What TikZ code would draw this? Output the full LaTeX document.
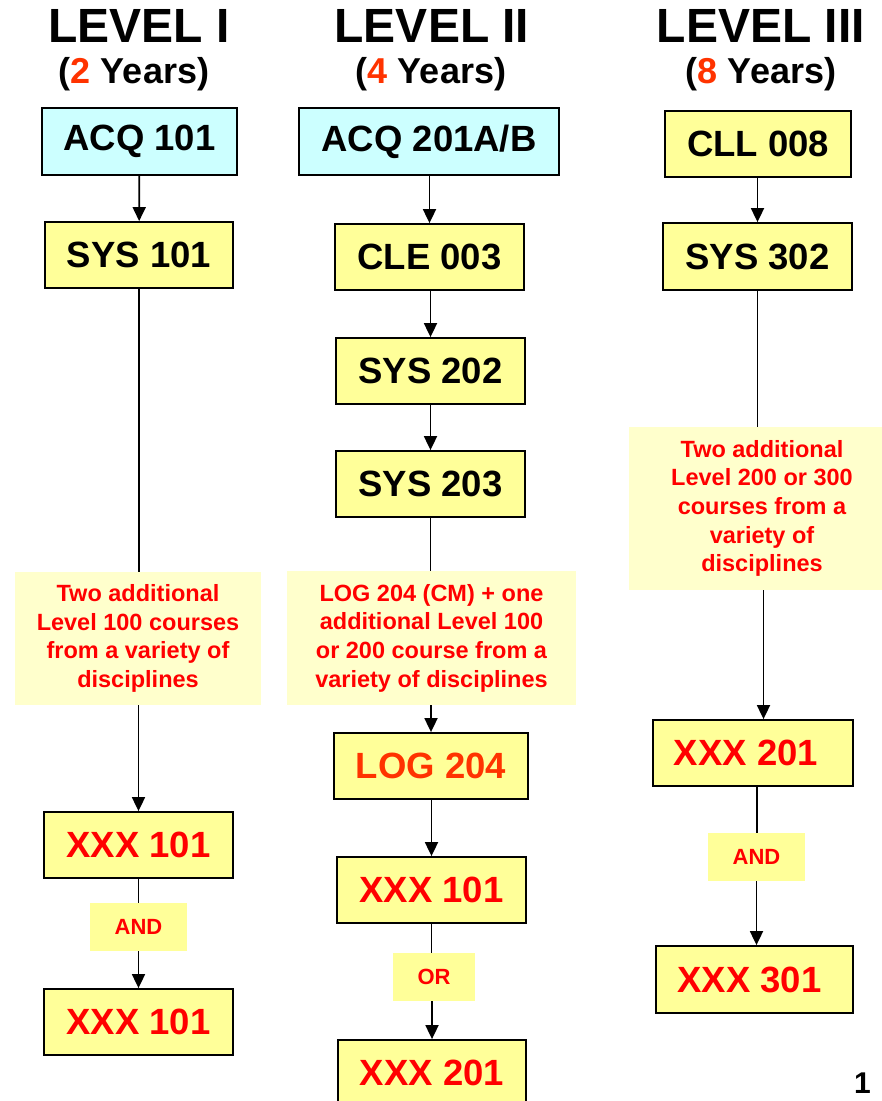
\documentclass[tikz,border=0pt]{standalone}
\usepackage{fontspec}
\setmainfont{Liberation Sans}
\usetikzlibrary{arrows.meta}
\definecolor{crsyellow}{HTML}{FFFF99}
\definecolor{crscyan}{HTML}{CCFFFF}
\definecolor{notefill}{HTML}{FFFFCC}
\definecolor{crsred}{HTML}{FF0000}
\definecolor{logred}{HTML}{FF3300}
\begin{document}
\begin{tikzpicture}[x=1pt,y=-1pt,font=\bfseries,
  crs/.style={draw,line width=1.8pt,fill=crsyellow,minimum width=#1,minimum height=66pt,inner sep=0pt,font=\bfseries\fontsize{36.5}{40}\selectfont},
  crs/.default=189pt,
  note/.style={fill=notefill,text=crsred,align=center,inner sep=0pt,font=\bfseries\fontsize{23.5}{28.7}\selectfont},
  conj/.style={fill=crsyellow,text=crsred,minimum width=97pt,minimum height=48pt,inner sep=0pt,font=\bfseries\fontsize{22}{24}\selectfont},
  lvl/.style={font=\bfseries\fontsize{48}{50}\selectfont,inner sep=0pt},
  yrs/.style={font=\bfseries\fontsize{36}{40}\selectfont,inner sep=0pt},
  link/.style={line width=1.8pt},
  arr/.style={line width=1.8pt,-{Triangle[width=13pt,length=14pt]}}]
  \useasboundingbox (0,0) rectangle (882,1101);
  % headings
  \node[lvl] (h1) at (139,26){LEVEL I};
  \node[yrs] (y1) at (134,74){({\color{logred}2} Years)};
  \node[lvl] (h2) at (432,26){LEVEL II};
  \node[yrs] (y2) at (431,74){({\color{logred}4} Years)};
  \node[lvl] (h3) at (761,26){LEVEL III};
  \node[yrs] (y3) at (761,74){({\color{logred}8} Years)};
  % level I
  \node[crs=195pt,fill=crscyan,minimum height=67pt] (a1) at (139.5,141.5){ACQ 101};
  \node[crs=188pt] (a2) at (139,255){SYS 101};
  \node[crs,text=crsred] (a4) at (138.5,845){XXX 101};
  \node[crs,text=crsred] (a6) at (138.5,1022){XXX 101};
  % level II
  \node[crs=260pt,fill=crscyan,minimum height=67pt] (b1) at (429,141.5){ACQ 201A/B};
  \node[crs] (b2) at (429.5,257){CLE 003};
  \node[crs] (b3) at (430.5,371){SYS 202};
  \node[crs] (b4) at (430.5,484){SYS 203};
  \node[crs=194pt,text=logred] (b6) at (431,766){LOG 204};
  \node[crs,text=crsred] (b7) at (431.5,890){XXX 101};
  \node[crs=188pt,text=crsred] (b9) at (432,1073){XXX 201};
  % level III
  \node[crs=186pt] (c1) at (758,144){CLL 008};
  \node[crs,minimum height=67pt] (c2) at (757.5,256.5){SYS 302};
  \node[crs=200pt,text=crsred] (c4) at (753,753){\hspace*{-14pt}XXX 201};
  \node[crs=197pt,text=crsred,minimum height=67pt] (c6) at (754.5,979.5){\hspace*{-10pt}XXX 301};
  % notes and conjunctions
  \node[note,minimum width=246pt,minimum height=133pt] (a3) at (138,638.5){Two additional\\Level 100 courses\\from a variety of\\disciplines};
  \node[note,minimum width=289pt,minimum height=134pt] (b5) at (431.5,638){LOG 204 (CM) + one\\additional Level 100\\or 200 course from a\\variety of disciplines};
  \node[note,minimum width=253pt,minimum height=163pt] (c3) at (755.5,508.5){\hspace*{13pt}Two additional\\\hspace*{13pt}Level 200 or 300\\\hspace*{13pt}courses from a\\\hspace*{13pt}variety of\\\hspace*{13pt}disciplines};
  \node[conj] (a5) at (138.5,927){AND};
  \node[conj,minimum width=82pt] (b8) at (434,977){OR};
  \node[conj] (c5) at (756.5,857){AND};
  % connectors
  \draw[arr] (a1) -- (a2);
  \draw[link] (a2.south) -- (a2.south |- a3.north);
  \draw[arr] (a3.south -| a4.north) -- (a4.north);
  \draw[link] (a4.south) -- (a4.south |- a5.north);
  \draw[arr] (a5.south -| a6.north) -- (a6.north);
  \draw[arr] (b1.south -| b2.north) -- (b2.north);
  \draw[arr] (b2.south -| b3.north) -- (b3.north);
  \draw[arr] (b3) -- (b4);
  \draw[link] (b4.south) -- (b4.south |- b5.north);
  \draw[arr] (b5.south -| b6.north) -- (b6.north);
  \draw[arr] (b6.south -| b7.north) -- (b7.north);
  \draw[link] (b7.south) -- (b7.south |- b8.north);
  \draw[arr] (b8.south -| b9.north) -- (b9.north);
  \draw[arr] (c1.south -| c2.north) -- (c2.north);
  \draw[link] (c2.south) -- (c2.south |- c3.north);
  \draw[arr] ([xshift=8pt]c3.south) -- ([xshift=8pt]c3.south |- c4.north);
  \draw[link] ([xshift=4pt]c4.south) -- ([xshift=4pt]c4.south |- c5.north);
  \draw[arr] (c5.south) -- (c5.south |- c6.north);
  % page number
  \node[font=\bfseries\fontsize{30}{32}\selectfont,anchor=base west,inner sep=0pt] (pg) at (854,1093){1};
\end{tikzpicture}
\end{document}
